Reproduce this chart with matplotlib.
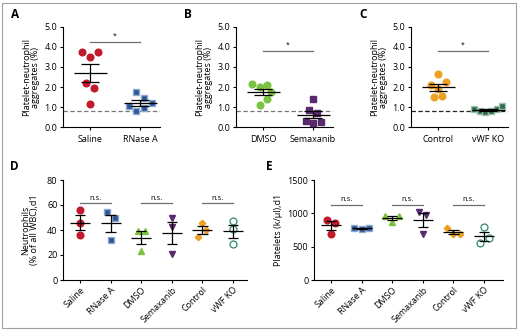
import matplotlib.pyplot as plt
import numpy as np
from matplotlib.patches import Rectangle

plt.rcParams['font.family'] = ['Open Sans', 'DejaVu Sans']
plt.rcParams['font.size'] = 6

W, H = 520, 331

# panel A-C data (platelet-neutrophil aggregates, %)
saline_a = [3.73, 3.51, 3.73, 2.19, 1.96, 1.18]
rnase_a = [1.77, 1.46, 1.08, 1.19, 0.96, 0.83]
dmso_b = [2.14, 2.02, 2.10, 1.77, 1.39, 1.11]
semax_b = [1.42, 0.86, 0.73, 0.30, 0.23, 0.25]
control_c = [2.64, 2.10, 2.24, 1.92, 1.49, 1.54]
vwfko_c = [0.91, 0.81, 0.75, 0.79, 0.90, 1.06]

jit_saline = [-0.17, -0.01, 0.15, -0.09, 0.07, -0.01]
jit_rnase = [-0.08, 0.08, -0.23, 0.23, 0.08, -0.08]
jit_dmso = [-0.23, -0.07, 0.08, 0.16, 0.08, -0.07]
jit_semax = [0.0, -0.08, 0.08, -0.15, 0.0, 0.15]
jit_control = [0.0, -0.15, 0.16, 0.0, -0.08, 0.08]
jit_vwf = [-0.28, -0.17, -0.07, 0.05, 0.17, 0.28]

# panel D/E data
groups = ["Saline", "RNase A", "DMSO", "Semaxanib", "Control", "vWF KO"]
neutro = [[56.3, 45.9, 35.7], [54.4, 49.3, 32.3], [39.5, 39.5, 22.9],
          [49.9, 42.1, 20.5], [45.9, 39.7, 34.7], [47.2, 40.5, 29.1]]
plts = [[900, 860, 695], [785, 765, 785], [965, 965, 865],
        [1025, 975, 695], [775, 695, 695], [790, 625, 555]]
jit_d = [[0.0, 0.0, 0.0], [-0.11, 0.13, 0.0], [-0.12, 0.12, 0.0],
         [0.0, 0.0, 0.0], [0.0, 0.12, -0.13], [0.0, 0.0, 0.0]]
jit_e = [[-0.13, 0.13, 0.0], [-0.24, 0.0, 0.24], [-0.23, 0.23, 0.0],
         [-0.12, 0.12, 0.0], [-0.2, 0.0, 0.22], [0.0, 0.15, -0.13]]

RED = '#c01a2c'
BLUE = '#2c5596'
GREEN = '#7cc242'
PURPLE = '#5a2a6f'
ORANGE = '#eea021'
DKGREEN = '#2f6a4c'
TEAL = '#2e8b6b'

styles = [
    dict(marker='o', color=RED, mfc=RED, mec=RED, ms=4.8),
    dict(marker='s', color=BLUE, mfc=BLUE, mec='#8fa8cf', ms=4.3),
    dict(marker='^', color=GREEN, mfc=GREEN, mec=GREEN, ms=4.3),
    dict(marker='v', color=PURPLE, mfc=PURPLE, mec=PURPLE, ms=4.3),
    dict(marker='D', color=ORANGE, mfc=ORANGE, mec=ORANGE, ms=3.3),
    dict(marker='o', color=TEAL, mfc='none', mec=TEAL, ms=5.0, mew=0.9),
]

fig = plt.figure(figsize=(W / 100, H / 100), dpi=100)
fig.patches.append(Rectangle((2 / W, 3 / H), 514 / W, 325 / H, transform=fig.transFigure,
                             fill=False, edgecolor='#a0a0a0', linewidth=0.8))


def px_axes(left, right, top, bottom):
    return fig.add_axes([left / W, 1 - bottom / H, (right - left) / W, (bottom - top) / H])


def style_axes(ax):
    for s in ['top', 'right']:
        ax.spines[s].set_visible(False)
    for s in ['left', 'bottom']:
        ax.spines[s].set_linewidth(0.8)
    ax.tick_params(length=2.5, width=0.8, pad=1.5, labelsize=6.5)


def mean_sem(ax, x, vals, half_m=0.33, half_c=0.18):
    vals = np.array(vals)
    m = vals.mean()
    s = vals.std(ddof=1) / np.sqrt(len(vals))
    ax.hlines(m, x - half_m, x + half_m, color='k', lw=0.9, zorder=4)
    ax.vlines(x, m - s, m + s, color='k', lw=0.9, zorder=4)
    ax.hlines([m - s, m + s], x - half_c, x + half_c, color='k', lw=0.9, zorder=4)


def top_panel(left, letter, names, d0, d1, j0, j1, st0, st1, sig_y, dash_color):
    ax = px_axes(left, left + 97, 26.7, 127.3)
    style_axes(ax)
    ax.set_xlim(-0.54, 1.4)
    ax.set_ylim(0, 5)
    ax.set_yticks(np.arange(0, 5.1, 1.0))
    ax.set_yticklabels([f"{v:.1f}" for v in np.arange(0, 5.1, 1.0)])
    ax.set_xticks([0, 1])
    ax.set_xticklabels(names, fontsize=6.5)
    ax.tick_params(axis='x', pad=3)
    ax.axhline(0.8, color=dash_color, lw=0.9, ls=(0, (3.5, 2)), zorder=1)
    for i, (d, j, st) in enumerate([(d0, j0, st0), (d1, j1, st1)]):
        ax.plot(np.array(j) + i, d, ls='none', zorder=3, **st)
        mean_sem(ax, i, d)
    ax.plot([0, 1], [sig_y, sig_y], color='#6e6e6e', lw=0.9)
    ax.text(0.5, sig_y + 0.08, '*', ha='center', va='bottom', fontsize=5)
    ax.set_ylabel("Platelet-neutrophil\naggregates (%)", fontsize=6.5, labelpad=3, linespacing=1.05)
    fig.text((left - 52) / W, 1 - 15 / H, letter, fontsize=8.5, fontweight='bold', va='center')
    return ax


sq_dk = dict(marker='s', color=DKGREEN, mfc=DKGREEN, mec='#9cc2ae', ms=4.3)
top_panel(63, 'A', ["Saline", "RNase A"], saline_a, rnase_a, jit_saline, jit_rnase,
          styles[0], styles[1], 4.26, '#777777')
top_panel(236, 'B', ["DMSO", "Semaxanib"], dmso_b, semax_b, jit_dmso, jit_semax,
          dict(marker='o', color=GREEN, mfc=GREEN, mec=GREEN, ms=4.8),
          dict(marker='s', color=PURPLE, mfc=PURPLE, mec=PURPLE, ms=4.3), 3.81, '#777777')
top_panel(411, 'C', ["Control", "vWF KO"], control_c, vwfko_c, jit_control, jit_vwf,
          dict(marker='o', color=ORANGE, mfc=ORANGE, mec=ORANGE, ms=4.8),
          sq_dk, 3.81, '#222222')


def bottom_panel(left, right, letter, letter_x, data, jit, ylim, yticks, ylabel, sig_y, txt_off, pad):
    ax = px_axes(left, right, 180, 280)
    style_axes(ax)
    ax.set_ylim(*ylim)
    ax.set_yticks(yticks)
    x0 = left + 17
    ax.set_xlim(-(x0 - left) / 30.6, (right - x0) / 30.6)
    ax.set_xticks(range(6))
    ax.set_xticklabels(groups, rotation=45, ha='right', rotation_mode='anchor', fontsize=6.5)
    for i, (d, j) in enumerate(zip(data, jit)):
        ax.plot(np.array(j) + i, d, ls='none', zorder=3, **styles[i])
        mean_sem(ax, i, d, 0.33, 0.17)
    for a in [0, 2, 4]:
        ax.plot([a, a + 1], [sig_y, sig_y], color='#6e6e6e', lw=0.9)
        ax.text(a + 0.5, sig_y + txt_off, 'n.s.', ha='center', va='bottom', fontsize=5.5)
    ax.set_ylabel(ylabel, fontsize=6.5, labelpad=pad, linespacing=1.05)
    fig.text(letter_x / W, 1 - 166 / H, letter, fontsize=8.5, fontweight='bold', va='center')
    return ax


bottom_panel(63, 247, 'D', 10, neutro, jit_d, (0, 80), [0, 20, 40, 60, 80],
             "Neutrophils\n(% of all WBC),d1", 61.3, 1.5, 5.5)
bottom_panel(314, 503, 'E', 266, plts, jit_e, (0, 1500), [0, 500, 1000, 1500],
             "Platelets (k/\u00b5l),d1", 1125, 25, 3.5)

fig.savefig('out.png', dpi=100)
